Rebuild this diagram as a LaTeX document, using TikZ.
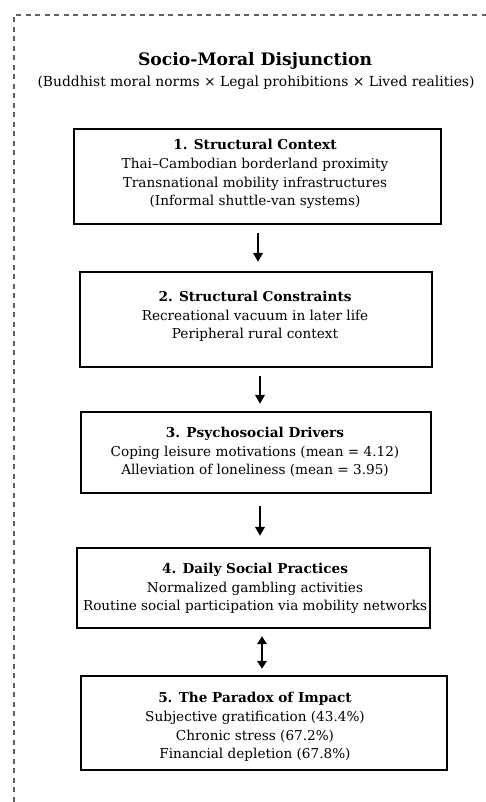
\documentclass[tikz,border=0pt]{standalone}
\usepackage{fontspec}
\setmainfont{DejaVu Serif}
\usetikzlibrary{arrows.meta}
\newlength\mwA
\newlength\mwB
\newlength\mwC
\begin{document}
\settowidth\mwA{\fontsize{10pt}{12pt}\selectfont Routine social participation via mobility networks}%
\settowidth\mwB{\fontsize{10pt}{12pt}\selectfont\bfseries Socio-Moral Disjunction}%
\settowidth\mwC{\fontsize{10pt}{12pt}\selectfont (Buddhist moral norms × Legal prohibitions × Lived realities)}%
\pgfmathsetmacro\bodysz{10*344/\mwA}%
\pgfmathsetmacro\titlesz{10*234/\mwB}%
\pgfmathsetmacro\subsz{10*437/\mwC}%
\begin{tikzpicture}[x=1pt,y=-1pt]
\tikzset{
  stagebox/.style={draw=black, line width=2.4pt, inner sep=0pt, minimum width=#1},
  stagetext/.style={align=center, inner sep=0pt, text=black, font=\fontsize{\bodysz pt}{18.7pt}\selectfont},
  arr/.style={line width=2.6pt, -{Triangle[width=9.5pt,length=9pt]}},
  darr/.style={line width=2.6pt, {Triangle[width=9.5pt,length=8pt]}-{Triangle[width=9.5pt,length=8pt]}},
  frame/.style={draw=black!62, line width=1.2pt, dash pattern=on 5pt off 4.5pt}
}
\useasboundingbox (0,0) rectangle (486,802);
\clip (0,0) rectangle (486,802);
\fill[white] (0,0) rectangle (486,802);
\draw[frame] (14,830) -- (14,15) -- (520,15);

\node[inner sep=0pt, font=\fontsize{\titlesz pt}{\titlesz pt}\selectfont\bfseries] (title) at (255,61) {Socio-Moral Disjunction};
\node[inner sep=0pt, text=black, font=\fontsize{\subsz pt}{\subsz pt}\selectfont] (sub) at (256,83) {(Buddhist moral norms × Legal prohibitions × Lived realities)};

\node[stagebox=367pt, minimum height=95pt] (b1) at (257.5,176.5) {};
\node[stagebox=352pt, minimum height=95pt] (b2) at (256,319.5) {};
\node[stagebox=350pt, minimum height=81pt] (b3) at (256,452.5) {};
\node[stagebox=353pt, minimum height=80pt] (b4) at (253.5,588) {};
\node[stagebox=366pt, minimum height=94pt] (b5) at (264,723) {};

\node[stagetext] (t1) at (255,174) {\textbf{1. Structural Context}\\Thai–Cambodian borderland proximity\\Transnational mobility infrastructures\\(Informal shuttle-van systems)};
\node[stagetext] (t2) at (255,316.5) {\textbf{2. Structural Constraints}\\Recreational vacuum in later life\\Peripheral rural context};
\node[stagetext] (t3) at (255,452) {\textbf{3. Psychosocial Drivers}\\Coping leisure motivations (mean = 4.12)\\Alleviation of loneliness (mean = 3.95)};
\node[stagetext] (t4) at (255,588.5) {\textbf{4. Daily Social Practices}\\Normalized gambling activities\\Routine social participation via mobility networks};
\node[stagetext] (t5) at (255,727) {\textbf{5. The Paradox of Impact}\\Subjective gratification (43.4\%)\\Chronic stress (67.2\%)\\Financial depletion (67.8\%)};

\draw[arr] ([xshift=0.5pt,yshift=-8pt]b1.south) -- ([xshift=2pt,yshift=9pt]b2.north);
\draw[arr] ([xshift=4pt,yshift=-8pt]b2.south) -- ([xshift=4pt,yshift=7pt]b3.north);
\draw[arr] ([xshift=4pt,yshift=-12pt]b3.south) -- ([xshift=6.5pt,yshift=11pt]b4.north);
\draw[darr] ([xshift=8.5pt,yshift=-7pt]b4.south) -- ([xshift=-2pt,yshift=6pt]b5.north);
\end{tikzpicture}
\end{document}
